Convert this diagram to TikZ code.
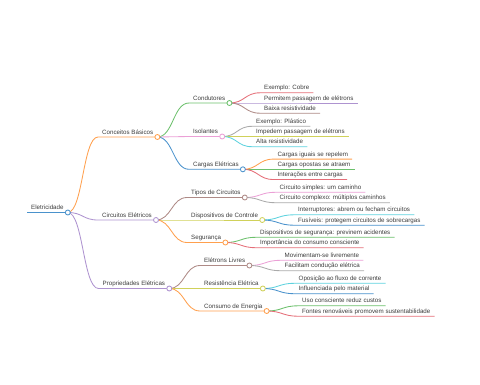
\documentclass[tikz,border=0pt]{standalone}
\usepackage{fontspec}
\setmainfont{Liberation Sans}
\usepackage{xcolor}
\usetikzlibrary{calc}
\definecolor{ink}{HTML}{3C3C3C}
\definecolor{c0}{HTML}{4A92CC}
\definecolor{c1}{HTML}{FFA04E}
\definecolor{c2}{HTML}{6CC06C}
\definecolor{c3}{HTML}{E56E78}
\definecolor{c4}{HTML}{AE93D0}
\definecolor{c5}{HTML}{AE8A86}
\definecolor{c6}{HTML}{EBA0D6}
\definecolor{c7}{HTML}{AAAAAA}
\definecolor{c8}{HTML}{D0D15A}
\definecolor{c9}{HTML}{5DD2DE}

\begin{document}
\begin{tikzpicture}[
  x=1pt, y=-1pt,
  t/.style={anchor=south west, font=\fontsize{6.2}{7}\selectfont, text=ink,
            inner xsep=4pt, inner ysep=1pt, text depth=1.7pt},
  ln/.style={line width=0.85pt},
  dot/.style={line width=0.85pt, fill=white}
]
\useasboundingbox (0,0) rectangle (480,384);
% labels
\node[t] (root) at (27,212.5) {Eletricidade};
\node[t] (basicos) at (98,137) {Conceitos Básicos};
\node[t] (circuitos) at (98,220) {Circuitos Elétricos};
\node[t] (propried) at (98.5,288.5) {Propriedades Elétricas};
\node[t] (condut) at (189,103) {Condutores};
\node[t] (isol) at (189,136.5) {Isolantes};
\node[t] (cargas) at (189,169.3) {Cargas Elétricas};
\node[t] (cobre) at (260,92.8) {Exemplo: Cobre};
\node[t] (permitem) at (260,103) {Permitem passagem de elétrons};
\node[t] (baixa) at (260,113.2) {Baixa resistividade};
\node[t] (plastico) at (252,126.3) {Exemplo: Plástico};
\node[t] (impedem) at (252,136.5) {Impedem passagem de elétrons};
\node[t] (alta) at (252,146.7) {Alta resistividade};
\node[t] (iguais) at (273.5,159.1) {Cargas iguais se repelem};
\node[t] (opostas) at (273.5,169.3) {Cargas opostas se atraem};
\node[t] (interac) at (273.5,179.5) {Interações entre cargas};
\node[t] (tipos) at (187,197.5) {Tipos de Circuitos};
\node[t] (disp) at (187,220) {Dispositivos de Controle};
\node[t] (seg) at (187,242.5) {Segurança};
\node[t] (simples) at (275.5,192.3) {Circuito simples: um caminho};
\node[t] (complexo) at (275.5,202.7) {Circuito complexo: múltiplos caminhos};
\node[t] (interr) at (294,214.8) {Interruptores: abrem ou fecham circuitos};
\node[t] (fusiveis) at (294,225.2) {Fusíveis: protegem circuitos de sobrecargas};
\node[t] (dispseg) at (256,237.3) {Dispositivos de segurança: previnem acidentes};
\node[t] (import) at (256,247.7) {Importância do consumo consciente};
\node[t] (eletrons) at (200,265.5) {Elétrons Livres};
\node[t] (resist) at (200,288.5) {Resistência Elétrica};
\node[t] (consumo) at (200,311) {Consumo de Energia};
\node[t] (movim) at (280.5,260.3) {Movimentam-se livremente};
\node[t] (facil) at (280.5,270.7) {Facilitam condução elétrica};
\node[t] (oposic) at (294.5,283.3) {Oposição ao fluxo de corrente};
\node[t] (influ) at (294.5,293.7) {Influenciada pelo material};
\node[t] (uso) at (298,305.8) {Uso consciente reduz custos};
\node[t] (fontes) at (298,316.2) {Fontes renováveis promovem sustentabilidade};
% branches with underlines
\draw[ln, c0] (root.south west) -- (root.south east);
\foreach \p/\q/\c in {root/basicos/c1, root/circuitos/c4, root/propried/c4,
    basicos/condut/c2, basicos/isol/c6, basicos/cargas/c0,
    condut/cobre/c3, condut/permitem/c4, condut/baixa/c5,
    isol/plastico/c7, isol/impedem/c8, isol/alta/c9,
    cargas/iguais/c1, cargas/opostas/c2, cargas/interac/c3,
    circuitos/tipos/c5, circuitos/disp/c8, circuitos/seg/c1,
    tipos/simples/c6, tipos/complexo/c7, disp/interr/c9, disp/fusiveis/c0,
    seg/dispseg/c2, seg/import/c3,
    propried/eletrons/c5, propried/resist/c8, propried/consumo/c1,
    eletrons/movim/c6, eletrons/facil/c7, resist/oposic/c9, resist/influ/c0,
    consumo/uso/c2, consumo/fontes/c3}{
  \path ($(\p.south east)!.5!(\q.south west)$) coordinate (m);
  \draw[ln, \c] (\p.south east) .. controls (m |- \p.south east) and (m |- \q.south west) .. (\q.south west) -- (\q.south east);
}
% open circles on inner nodes
\foreach \n/\c in {root/c0, basicos/c1, circuitos/c4, propried/c4,
    condut/c2, isol/c6, cargas/c0, tipos/c5, disp/c8, seg/c1,
    eletrons/c5, resist/c8, consumo/c1}{
  \draw[dot, draw=\c, fill=white] (\n.south east) circle (2.5pt);
}
\end{tikzpicture}
\end{document}
